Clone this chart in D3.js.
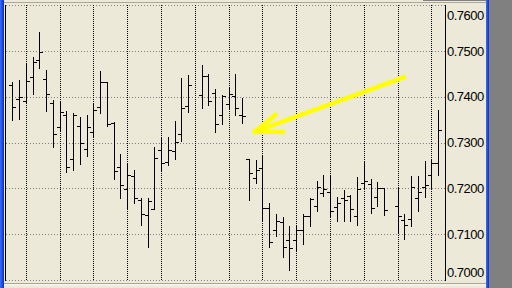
<!DOCTYPE html>
<html>
<head>
<meta charset="utf-8">
<script src="https://cdn.jsdelivr.net/npm/d3@7"></script>
<style>
  html, body { margin: 0; padding: 0; background: #ECE9D8; overflow: hidden; }
  svg { display: block; }
</style>
</head>
<body>
<svg id="chart" width="512" height="288"></svg>
<script>
// OHLC per bar slot (null = no bar drawn in that slot)
const opens = [0.7425,0.7394,0.7391,0.7442,0.7481,0.7439,0.7386,0.7333,0.7360,0.7263,
               0.7336,0.7285,0.7322,0.7378,0.7431,0.7343,0.7246,0.7199,0.7227,0.7174,
               0.7141,0.7154,0.7283,0.7257,0.7281,0.7319,0.7380,null,0.7403,0.7445,
               0.7408,0.7360,0.7384,0.7402,0.7361,0.7263,0.7222,0.7244,0.7156,0.7108,
               0.7127,0.7087,0.7087,0.7109,0.7140,0.7161,0.7189,0.7191,0.7160,0.7180,
               0.7183,0.7139,0.7212,0.7209,0.7181,0.7200,null,0.7161,0.7131,0.7133,
               0.7178,0.7202,0.7229,0.7256];
const highs = [0.7431,0.7436,0.7474,0.7487,0.7542,0.7458,0.7393,0.7388,0.7369,0.7364,
               0.7356,0.7360,0.7386,0.7456,0.7433,0.7345,0.7275,0.7255,0.7240,0.7178,
               0.7179,0.7290,0.7310,0.7312,0.7346,0.7441,0.7447,null,0.7469,0.7449,
               0.7417,0.7404,0.7421,0.7450,0.7398,0.7263,0.7262,0.7273,0.7169,0.7145,
               0.7137,0.7118,0.7118,0.7145,0.7178,0.7216,0.7229,0.7229,0.7182,0.7196,
               0.7185,0.7224,0.7258,0.7220,0.7214,0.7200,null,0.7202,0.7144,0.7227,
               0.7227,0.7260,0.7262,0.7372];
const lows  = [0.7348,0.7352,0.7386,0.7406,0.7463,0.7369,0.7291,0.7325,0.7236,0.7240,
               0.7254,0.7270,0.7311,0.7365,0.7337,0.7220,0.7178,0.7156,0.7167,0.7120,
               0.7071,0.7154,0.7240,0.7251,0.7263,0.7303,0.7367,null,0.7376,0.7382,
               0.7322,0.7340,0.7375,0.7359,0.7343,0.7175,0.7212,0.7129,0.7071,0.7097,
               0.7051,0.7022,0.7064,0.7079,0.7118,0.7151,0.7184,0.7138,0.7129,0.7129,
               0.7129,0.7120,0.7200,0.7147,0.7161,0.7142,null,0.7103,0.7089,0.7118,
               0.7151,0.7182,0.7200,0.7228];
const closes = [0.7378,0.7399,0.7434,0.7475,0.7497,0.7405,0.7319,0.7366,0.7246,0.7360,
                0.7298,0.7333,0.7370,0.7433,0.7340,0.7238,0.7207,0.7228,0.7180,0.7143,
                0.7172,0.7266,0.7255,0.7283,0.7301,0.7375,0.7426,null,0.7445,0.7390,
                0.7340,0.7401,0.7406,0.7375,0.7358,0.7233,0.7240,0.7156,0.7082,0.7129,
                0.7073,0.7069,0.7109,0.7140,0.7177,0.7202,0.7198,0.7151,0.7167,0.7175,
                0.7155,0.7199,0.7216,0.7157,0.7200,0.7153,null,0.7139,0.7121,0.7202,
                0.7193,0.7207,0.7256,0.7328];

// price ticks and the bar slots that carry a vertical grid line
const priceTicks = [0.70, 0.71, 0.72, 0.73, 0.74, 0.75, 0.76];
const gridSlots = [2, 7, 12, 17, 22, 27, 32, 37, 42, 47, 52, 57, 62];

// yellow arrow annotation, in [slot, price]
const arrowTail = [57.9, 0.7442];
const arrowTip = [35.9, 0.7324];
const arrowArms = [[38.9, 0.7360], [40.0, 0.7323]];

(function () {
    const svg = d3.select('#chart');
    const plotLeft = 6, axisX = 445, plotTop = 5, plotBottom = 280;

    const x = d3.scaleLinear().domain([0, opens.length - 1]).range([12.3, 438.2]);
    const y = d3.scaleLinear().domain([0.70, 0.76]).range([plotBottom, plotTop]);

    // window chrome
    const grad = svg.append('defs').append('linearGradient').attr('id', 'blue');
    grad.append('stop').attr('offset', '0%').attr('stop-color', '#3A6EF5');
    grad.append('stop').attr('offset', '100%').attr('stop-color', '#0A2FC8');

    svg.append('rect').attr('x', 0).attr('y', 0).attr('width', 4).attr('height', 288).attr('fill', 'url(#blue)');
    svg.append('rect').attr('x', 486).attr('y', 0).attr('width', 3).attr('height', 288).attr('fill', 'url(#blue)');
    svg.append('rect').attr('x', 489).attr('y', 0).attr('width', 23).attr('height', 288).attr('fill', '#808080');
    svg.append('rect').attr('x', 4).attr('y', 2).attr('width', 482).attr('height', 1).attr('fill', '#ACA899');
    svg.append('rect').attr('x', 423).attr('y', 0).attr('width', 63).attr('height', 1).attr('fill', '#808080');
    svg.append('rect').attr('x', 4).attr('y', 283).attr('width', 482).attr('height', 1).attr('fill', '#ACA899');
    svg.append('rect').attr('x', 4).attr('y', 284).attr('width', 482).attr('height', 2).attr('fill', '#F4F2E8');

    // horizontal dotted grid
    svg.append('g').selectAll('line')
        .data(priceTicks)
        .join('line')
        .attr('x1', plotLeft).attr('x2', axisX)
        .attr('y1', d => Math.round(y(d)) + 0.5)
        .attr('y2', d => Math.round(y(d)) + 0.5)
        .attr('stroke', '#808080')
        .attr('stroke-dasharray', '1,2')
        .attr('shape-rendering', 'crispEdges');

    // vertical dotted grid
    svg.append('g').selectAll('line')
        .data(gridSlots)
        .join('line')
        .attr('x1', d => Math.round(x(d)) + 0.5)
        .attr('x2', d => Math.round(x(d)) + 0.5)
        .attr('y1', plotTop).attr('y2', plotBottom)
        .attr('stroke', '#000')
        .attr('stroke-dasharray', '1,1')
        .attr('shape-rendering', 'crispEdges');

    // frame lines
    svg.append('rect').attr('x', plotLeft - 1).attr('y', plotTop).attr('width', 1).attr('height', plotBottom - plotTop + 1).attr('fill', '#000');
    svg.append('rect').attr('x', axisX).attr('y', plotTop).attr('width', 1).attr('height', plotBottom - plotTop + 1).attr('fill', '#000');

    // price labels
    svg.append('g').selectAll('text')
        .data(priceTicks)
        .join('text')
        .attr('x', axisX + 2)
        .attr('y', d => Math.max(15, Math.min(272, y(d))))
        .attr('dy', '0.36em')
        .attr('font-family', "'Liberation Sans', Arial, sans-serif")
        .attr('font-size', 13)
        .attr('letter-spacing', '-0.5')
        .attr('fill', '#000')
        .text(d => d3.format('.4f')(d));

    // OHLC bars
    const bars = d3.range(opens.length)
        .filter(i => opens[i] != null)
        .map(i => ({ i, o: opens[i], h: highs[i], l: lows[i], c: closes[i] }));

    const g = svg.append('g').attr('fill', '#000').attr('shape-rendering', 'crispEdges');
    bars.forEach(d => {
        const xi = Math.round(x(d.i));
        const yh = Math.round(y(d.h)), yl = Math.round(y(d.l));
        g.append('rect').attr('x', xi).attr('y', yh).attr('width', 1).attr('height', yl - yh + 1);
        g.append('rect').attr('x', xi - 3).attr('y', Math.round(y(d.o))).attr('width', 3).attr('height', 1);
        g.append('rect').attr('x', xi + 1).attr('y', Math.round(y(d.c))).attr('width', 3).attr('height', 1);
    });

    // arrow
    const pt = p => [x(p[0]), y(p[1])];
    const arrow = svg.append('g')
        .attr('stroke', '#FFFF00')
        .attr('stroke-width', 4.5)
        .attr('stroke-linecap', 'square')
        .attr('fill', 'none');
    arrow.append('line')
        .attr('x1', pt(arrowTail)[0]).attr('y1', pt(arrowTail)[1])
        .attr('x2', pt(arrowTip)[0]).attr('y2', pt(arrowTip)[1]);
    arrowArms.forEach(a => {
        arrow.append('line')
            .attr('x1', pt(arrowTip)[0]).attr('y1', pt(arrowTip)[1])
            .attr('x2', pt(a)[0]).attr('y2', pt(a)[1]);
    });
})();
</script>
</body>
</html>
